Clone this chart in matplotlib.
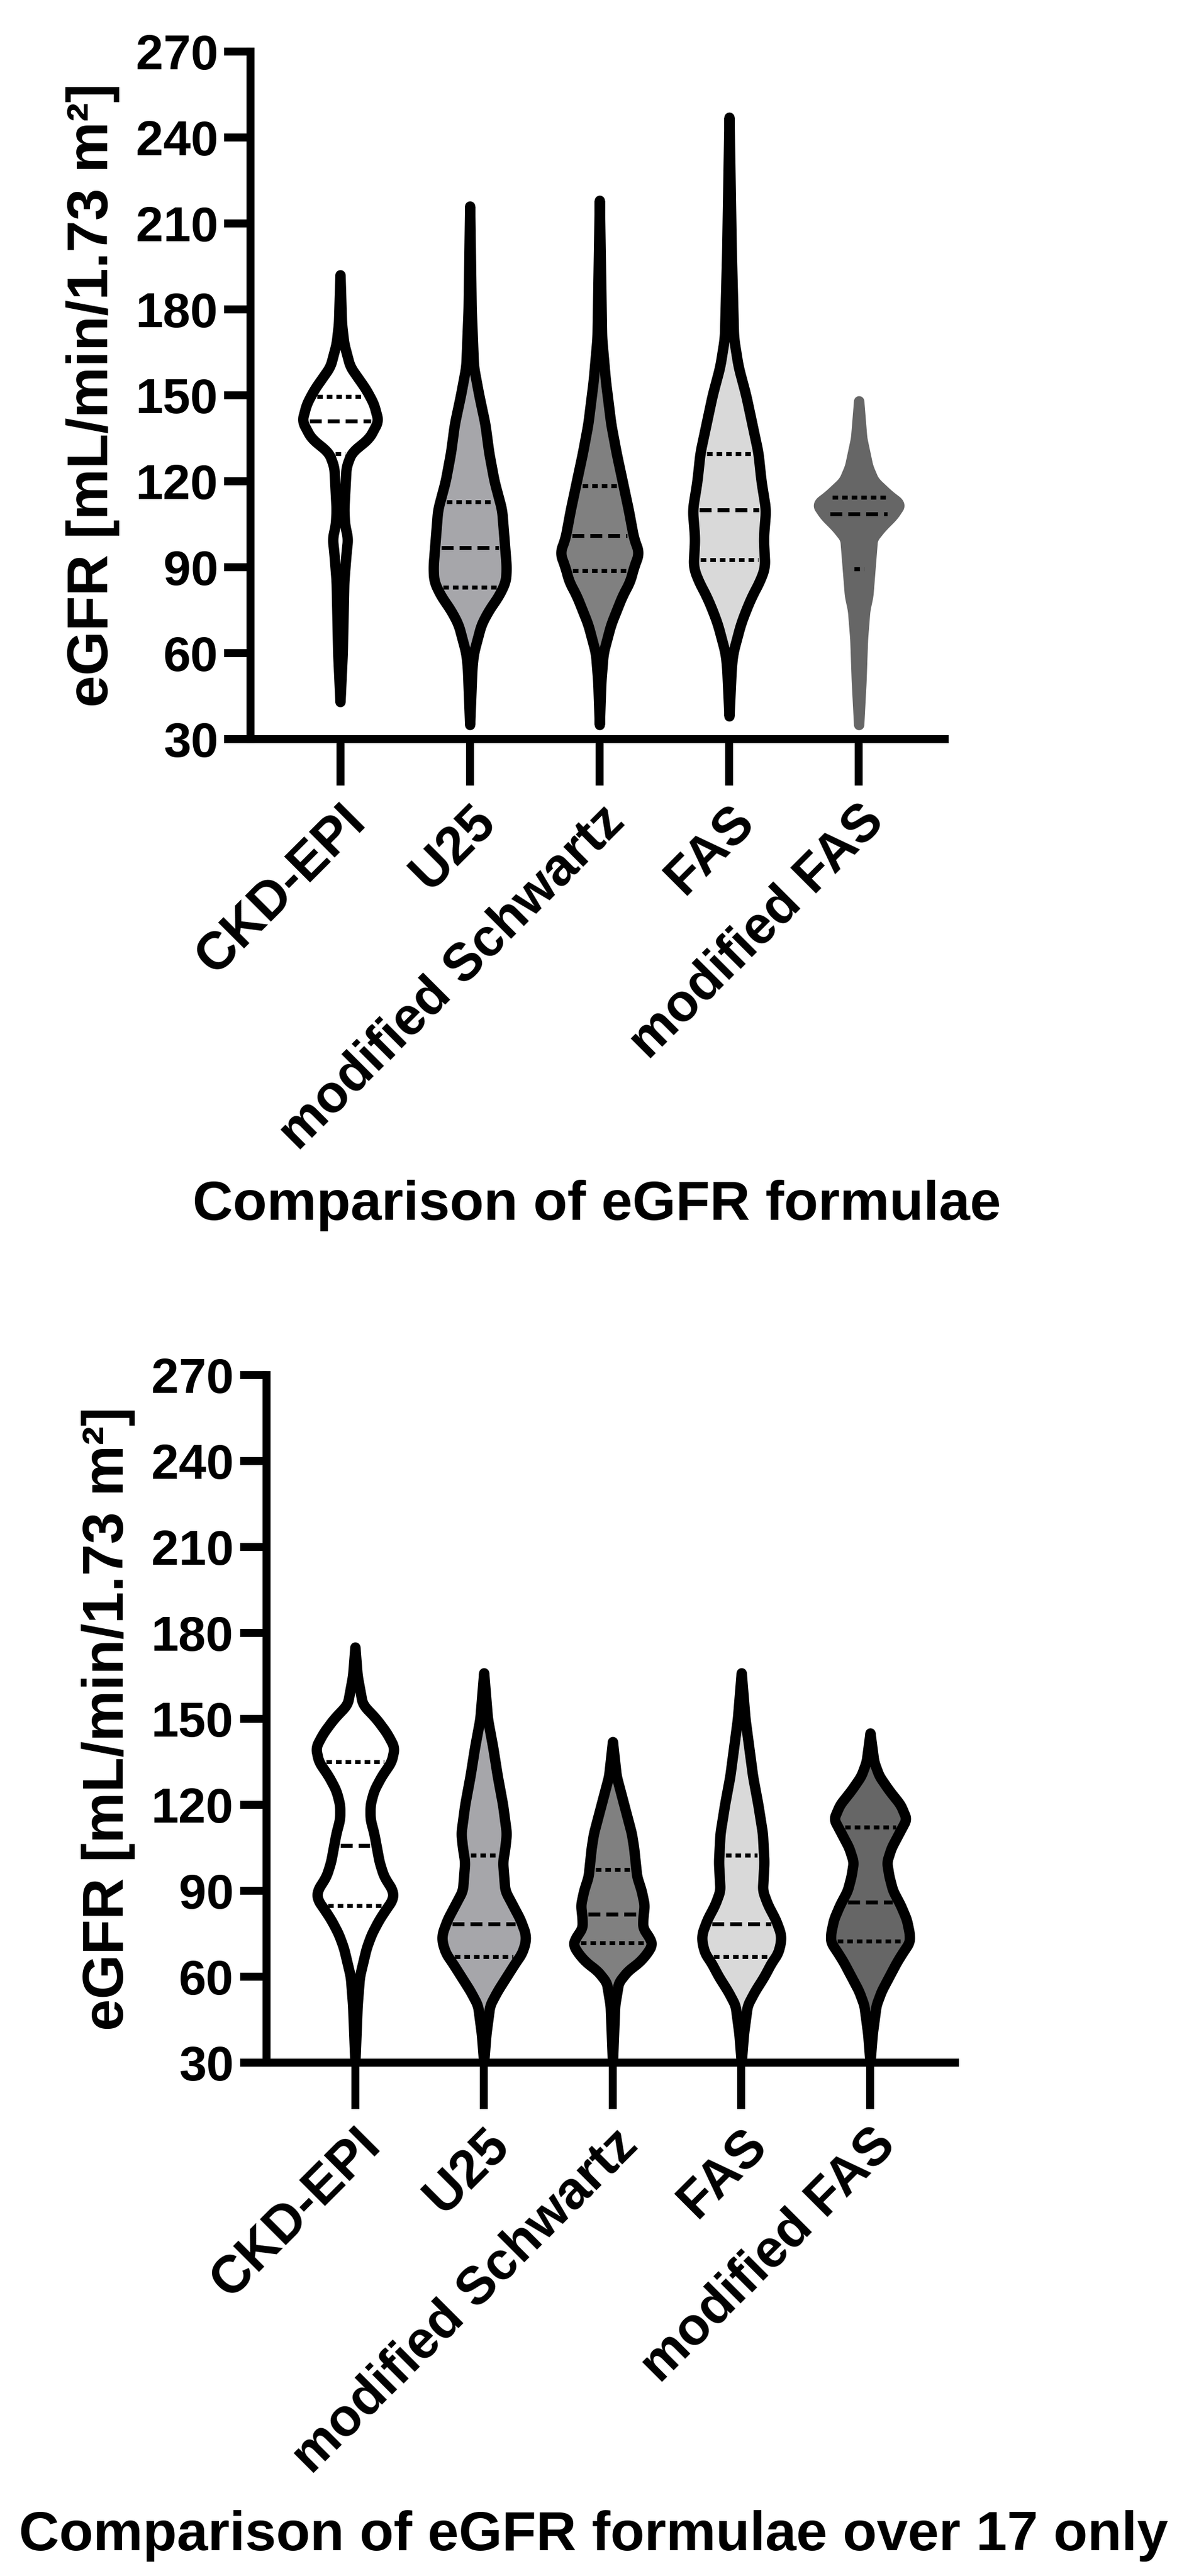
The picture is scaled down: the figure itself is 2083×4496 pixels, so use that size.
import matplotlib
matplotlib.use("Agg")
import matplotlib.pyplot as plt
import numpy as np

plt.rcParams['font.family'] = ['Liberation Sans', 'DejaVu Sans']
plt.rcParams['font.weight'] = 'bold'

categories = ["CKD-EPI", "U25", "modified Schwartz", "FAS", "modified FAS"]
fill_colors = ["#ffffff", "#a6a6aa", "#808080", "#d9d9d9", "#666666"]
yticks = [30, 60, 90, 120, 150, 180, 210, 240, 270]

# violin profiles: (eGFR, relative half width)
all_profiles = [
    [(43, 0), (60, 3), (85, 5), (95, 8), (100, 10), (105, 6), (110, 5), (125, 8),
     (130, 15), (135, 38), (141, 50), (147, 44), (152, 34), (160, 13), (168, 5),
     (175, 2), (192, 0)],
    [(35, 0), (55, 3), (60, 5), (70, 15), (75, 25), (80, 38), (85, 47), (90, 48),
     (100, 45), (110, 42), (120, 32), (130, 25), (140, 20), (150, 12), (160, 5),
     (180, 2), (216, 0)],
    [(35, 0), (50, 2), (60, 5), (70, 15), (80, 30), (85, 40), (90, 45), (95, 52),
     (100, 45), (110, 38), (120, 30), (130, 22), (140, 15), (155, 8), (170, 3),
     (218, 0)],
    [(38, 0), (55, 3), (60, 5), (70, 15), (75, 22), (80, 30), (85, 40), (90, 47),
     (100, 45), (110, 48), (120, 42), (130, 38), (140, 30), (150, 22), (160, 12),
     (170, 6), (200, 3), (247, 0)],
    [(35, 0), (50, 3), (65, 5), (75, 8), (80, 12), (90, 15), (100, 18), (104, 30),
     (108, 45), (112, 55), (115, 40), (120, 20), (125, 12), (135, 4), (148, 0)],
]
all_quartiles = [
    (129.5, 141.0, 149.5),
    (83.0, 96.7, 112.7),
    (88.8, 101.0, 118.3),
    (92.6, 110.0, 129.5),
    (89.4, 108.5, 114.3),
]

over17_profiles = [
    [(30, 0), (50, 3), (60, 6), (70, 15), (75, 22), (80, 32), (84, 42), (87, 50),
     (90, 50), (95, 38), (100, 32), (110, 25), (115, 20), (120, 20), (125, 25),
     (130, 35), (135, 48), (140, 52), (145, 42), (150, 28), (155, 10), (165, 3),
     (175, 0)],
    [(30, 0), (40, 3), (50, 8), (55, 18), (60, 30), (65, 42), (68, 50), (72, 55),
     (75, 55), (80, 48), (85, 38), (90, 28), (100, 25), (105, 28), (110, 30),
     (120, 25), (130, 18), (140, 12), (150, 5), (166, 0)],
    [(30, 0), (50, 3), (58, 8), (62, 20), (65, 35), (68, 45), (71, 52), (73, 50),
     (77, 40), (80, 40), (85, 42), (90, 38), (95, 32), (100, 30), (105, 28),
     (110, 25), (120, 15), (125, 10), (130, 5), (142, 0)],
    [(30, 0), (40, 3), (50, 8), (55, 18), (60, 30), (65, 40), (68, 48), (72, 52),
     (75, 52), (80, 45), (85, 35), (90, 28), (100, 30), (110, 28), (120, 22),
     (130, 15), (140, 10), (150, 5), (166, 0)],
    [(30, 0), (40, 3), (50, 8), (55, 15), (60, 25), (65, 35), (68, 42), (72, 52),
     (75, 52), (80, 48), (85, 40), (90, 30), (95, 25), (100, 22), (105, 28),
     (110, 38), (115, 48), (120, 40), (125, 25), (130, 12), (135, 5), (145, 0)],
]
over17_quartiles = [
    (84.8, 105.8, 134.9),
    (66.9, 78.4, 102.3),
    (71.8, 81.8, 97.3),
    (66.9, 78.4, 102.3),
    (72.4, 85.9, 112.1),
]


def half_width(profile):
    ys = np.array([p[0] for p in profile], dtype=float)
    ws = np.array([p[1] for p in profile], dtype=float) / 170.0
    grid = np.linspace(ys[0], ys[-1], 600)
    w = np.interp(grid, ys, ws)
    k = np.ones(15) / 15
    w = np.convolve(np.pad(w, 7, mode='edge'), k, mode='valid')
    w[0] = w[-1] = 0
    return grid, w


def draw_panel(ax, profiles, quartiles, last_outline):
    for i, (prof, q) in enumerate(zip(profiles, quartiles)):
        grid, w = half_width(prof)
        edge = last_outline if i == len(profiles) - 1 else 'black'
        ax.fill_betweenx(grid, i - w, i + w, facecolor=fill_colors[i],
                         edgecolor=edge, linewidth=13, zorder=2)
        for j, level in enumerate(q):
            hw = np.interp(level, grid, w) - 0.05
            if hw <= 0.01:
                hw = 0.03
            style = (0, (3, 1.5)) if j == 1 else (0, (1.4, 1.0))
            ax.plot([i - hw, i + hw], [level, level], color='black',
                    linewidth=5, linestyle=style, zorder=3)
    ax.set_xlim(-0.69, 4.66)
    ax.set_ylim(30, 270)
    ax.set_yticks(yticks)
    ax.set_xticks(range(len(categories)))
    ax.set_xticklabels(categories, rotation=45, ha='right',
                       rotation_mode='anchor', fontsize=66, fontweight='bold')
    for lab in ax.get_yticklabels():
        lab.set_fontsize(62)
        lab.set_fontweight('bold')
    ax.tick_params(axis='y', length=33, width=10, pad=8)
    ax.tick_params(axis='x', length=58, width=10, pad=14)
    for s in ['top', 'right']:
        ax.spines[s].set_visible(False)
    for s in ['left', 'bottom']:
        ax.spines[s].set_linewidth(10)
    ax.spines['left'].set_bounds(30, 270)
    ax.set_ylabel("eGFR [mL/min/1.73 m²]", fontsize=72, fontweight='bold',
                  labelpad=20)


fig = plt.figure(figsize=(20.83, 44.96), dpi=100)
ax1 = fig.add_axes([0.210, 0.7131, 0.581, 0.2669])
ax2 = fig.add_axes([0.223, 0.1993, 0.577, 0.2669])
draw_panel(ax1, all_profiles, all_quartiles, '#666666')
draw_panel(ax2, over17_profiles, over17_quartiles, 'black')

fig.text(0.5, 0.532, "Comparison of eGFR formulae", ha='center', va='center',
         fontsize=70, fontweight='bold')
fig.text(0.497, 0.0155, "Comparison of eGFR formulae over 17 only", ha='center',
         va='center', fontsize=70, fontweight='bold')

fig.savefig("out.png", dpi=100)
